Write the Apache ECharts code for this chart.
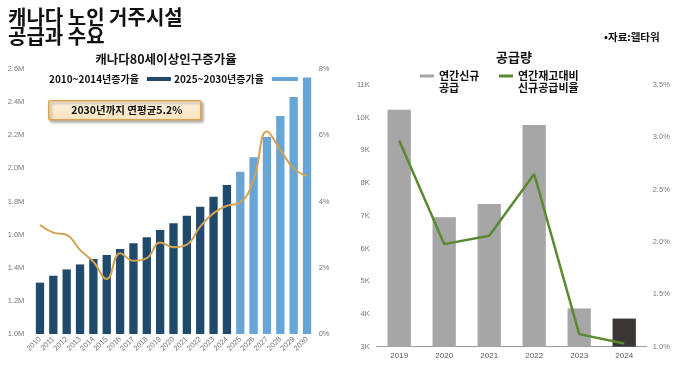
<!DOCTYPE html>
<html><head><meta charset="utf-8">
<script src="https://cdn.jsdelivr.net/npm/echarts@6/dist/echarts.min.js"></script>
<style>html,body{margin:0;padding:0;background:#fff;}#c{width:680px;height:370px;}</style>
</head><body><div id="c"></div>
<script>
// Left chart data
var years = ['2010','2011','2012','2013','2014','2015','2016','2017','2018','2019','2020','2021','2022','2023','2024','2025','2026','2027','2028','2029','2030'];
var population = [1.31,1.352,1.39,1.42,1.453,1.477,1.513,1.548,1.584,1.628,1.668,1.714,1.769,1.829,1.90,1.98,2.067,2.19,2.316,2.431,2.548]; // millions
var growthRate = [3.29,3.06,2.99,2.54,2.18,1.66,2.44,2.21,2.29,2.76,2.62,2.70,3.24,3.65,3.87,3.97,4.65,6.11,5.56,5.00,4.77]; // %
var firstProjectedYear = '2025';
// Right chart data
var supplyYears = ['2019','2020','2021','2022','2023','2024'];
var newSupply = [10240,6960,7360,9780,4170,3860];
var supplyRatio = [2.97,1.98,2.06,2.65,1.12,1.03]; // %

var FONT = 'Noto Sans CJK KR';
var AX = 'Liberation Sans';
var projIdx = years.indexOf(firstProjectedYear);
var histData = population.map(function(v,i){return i < projIdx ? v*1e6 : '-';});
var projData = population.map(function(v,i){return i >= projIdx ? v*1e6 : '-';});
var supplyData = newSupply.map(function(v,i){
  return i === newSupply.length-1 ? {value:v, itemStyle:{color:'#3a3735'}} : v;
});
// legend icon: a 3px bar aligned with the first text line inside a taller box
var topLineIcon = 'path://M0,0h0.01v0.01h-0.01z M0,5.5h14v3h-14z M0,25.99h0.01v0.01h-0.01z';

var chart = echarts.init(document.getElementById('c'), null, {renderer:'canvas'});
chart.setOption({
  animation:false,
  backgroundColor:'#fff',
  title:[
    {text:'캐나다 노인 거주시설\n공급과 수요', left:3, top:3,
     textStyle:{fontFamily:FONT, fontSize:20, fontWeight:'bold', color:'#111', lineHeight:19}},
    {text:'캐나다80세이상인구증가율', left:161, top:48, textAlign:'center',
     textStyle:{fontFamily:FONT, fontSize:12.5, fontWeight:'bold', color:'#111'}},
    {text:'공급량', left:509, top:46, textAlign:'center',
     textStyle:{fontFamily:FONT, fontSize:13, fontWeight:'bold', color:'#111'}},
    {text:'•자료:웰타워', left:599, top:27,
     textStyle:{fontFamily:FONT, fontSize:10.5, fontWeight:'bold', color:'#111'}}
  ],
  legend:[
    {data:['2010~2014년증가율'], left:44, top:69, align:'right', icon:'rect', itemWidth:24, itemHeight:4, itemGap:4,
     textStyle:{fontFamily:FONT, fontSize:10, fontWeight:'bold', color:'#111', padding:[0,3,0,0]}},
    {data:['2025~2030년증가율'], left:169, top:69, align:'right', icon:'rect', itemWidth:26, itemHeight:4,
     textStyle:{fontFamily:FONT, fontSize:10, fontWeight:'bold', color:'#111', padding:[0,3,0,0]}},
    {data:['연간신규\n공급'], left:415, top:64, align:'left', icon:topLineIcon, itemWidth:14, itemHeight:26,
     itemStyle:{borderWidth:0},
     textStyle:{fontFamily:FONT, fontSize:11, fontWeight:'bold', color:'#111', lineHeight:12}},
    {data:['연간재고대비\n신규공급비율'], left:494, top:64, align:'left', icon:topLineIcon, itemWidth:14, itemHeight:26,
     itemStyle:{borderWidth:0},
     textStyle:{fontFamily:FONT, fontSize:11, fontWeight:'bold', color:'#111', lineHeight:12}}
  ],
  grid:[
    {left:33.3, right:366.3, top:69, bottom:36},
    {left:376.7, right:33.3, top:85, bottom:23.3}
  ],
  xAxis:[
    {type:'category', gridIndex:0, data:years, axisLine:{show:false}, axisTick:{show:false},
     axisLabel:{rotate:45, fontSize:7.5, color:'#777', fontFamily:AX, margin:4, interval:0}},
    {type:'category', gridIndex:1, data:supplyYears, axisLine:{show:true, lineStyle:{color:'#9a9a9a', width:1}}, axisTick:{show:false},
     axisLabel:{fontSize:8, color:'#555', fontFamily:AX, margin:5}}
  ],
  yAxis:[
    {type:'value', gridIndex:0, min:1.0e6, max:2.6e6, interval:0.2e6, splitLine:{show:false}, axisLine:{show:false}, axisTick:{show:false},
     axisLabel:{fontSize:7.5, color:'#777', fontFamily:AX, margin:9, formatter:function(v){return (v/1e6).toFixed(1)+'M';}}},
    {type:'value', gridIndex:0, position:'right', min:0, max:8, interval:2, splitLine:{show:false}, axisLine:{show:false}, axisTick:{show:false},
     axisLabel:{fontSize:7.5, color:'#777', fontFamily:AX, margin:5, formatter:function(v){return v+'%';}}},
    {type:'value', gridIndex:1, min:3000, max:11000, interval:1000, splitLine:{show:false}, axisLine:{show:false}, axisTick:{show:false},
     axisLabel:{fontSize:7.5, color:'#777', fontFamily:AX, margin:7, formatter:function(v){return (v/1000)+'K';}}},
    {type:'value', gridIndex:1, position:'right', min:1.0, max:3.5, interval:0.5, splitLine:{show:false}, axisLine:{show:false}, axisTick:{show:false},
     axisLabel:{fontSize:7.5, color:'#777', fontFamily:AX, margin:6, formatter:function(v){return v.toFixed(1)+'%';}}}
  ],
  series:[
    {name:'2010~2014년증가율', type:'bar', xAxisIndex:0, yAxisIndex:0, stack:'pop', data:histData, barWidth:8.3,
     itemStyle:{color:'#1f4a6b'}},
    {name:'2025~2030년증가율', type:'bar', xAxisIndex:0, yAxisIndex:0, stack:'pop', data:projData, barWidth:8.3,
     itemStyle:{color:'#67a5d6'}},
    {name:'growth', type:'line', xAxisIndex:0, yAxisIndex:1, data:growthRate, smooth:0.45, showSymbol:false, symbol:'none',
     lineStyle:{color:'#d4a150', width:2}, z:5},
    {name:'연간신규\n공급', type:'bar', xAxisIndex:1, yAxisIndex:2, data:supplyData, barWidth:23.3,
     itemStyle:{color:'#a6a6a6'}},
    {name:'연간재고대비\n신규공급비율', type:'line', xAxisIndex:1, yAxisIndex:3, data:supplyRatio, showSymbol:false, symbol:'none',
     lineStyle:{color:'#5a8a2f', width:2.5}, itemStyle:{color:'#5a8a2f'}, z:5}
  ],
  graphic:[
    {type:'group', left:48, top:100, children:[
      {type:'rect', shape:{x:0, y:0, width:152, height:19, r:1},
       style:{fill:new echarts.graphic.LinearGradient(0,0,0,1,[{offset:0,color:'#fdf3e0'},{offset:1,color:'#f7e2bd'}]),
              stroke:'#d9a454', lineWidth:1.5, shadowBlur:3, shadowOffsetX:2, shadowOffsetY:2, shadowColor:'rgba(0,0,0,0.3)'}},
      {type:'text', x:78, y:9.5, style:{text:'2030년까지 연평균5.2%', fill:'#111', font:'bold 10.5px "Noto Sans CJK KR"', align:'center', verticalAlign:'middle'}}
    ]}
  ]
});
</script></body></html>
